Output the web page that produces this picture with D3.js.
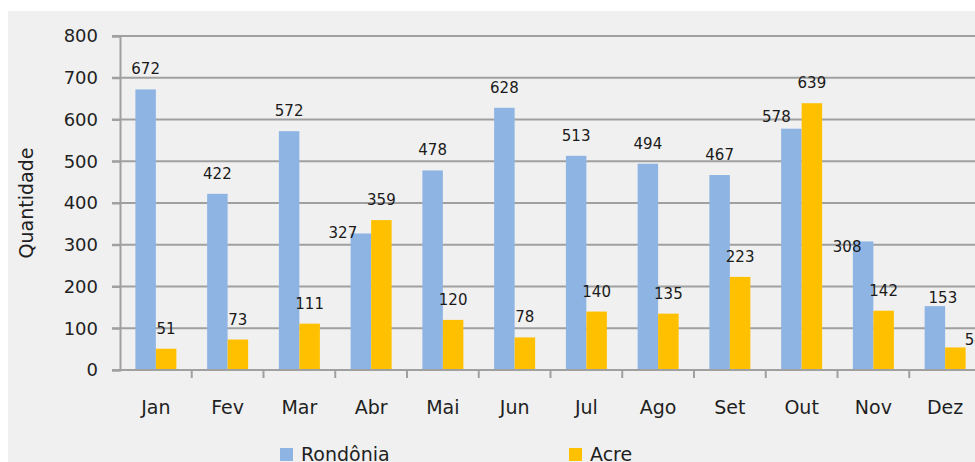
<!DOCTYPE html>
<html>
<head>
<meta charset="utf-8">
<script src="https://cdn.jsdelivr.net/npm/d3@7/dist/d3.min.js"></script>
<style>
  html, body { margin: 0; padding: 0; background: #fff; overflow: hidden; }
  svg { display: block; font-family: "DejaVu Sans", sans-serif; }
</style>
</head>
<body>
<script>
const months = ['Jan', 'Fev', 'Mar', 'Abr', 'Mai', 'Jun', 'Jul', 'Ago', 'Set', 'Out', 'Nov', 'Dez'];
const series = ['Rondônia', 'Acre'];
const rondonia = [672, 422, 572, 327, 478, 628, 513, 494, 467, 578, 308, 153];
const acre = [51, 73, 111, 359, 120, 78, 140, 135, 223, 639, 142, 54];
const yTicks = [0, 100, 200, 300, 400, 500, 600, 700, 800];

const width = 975, height = 462;
const colors = { 'Rondônia': '#8eb4e3', 'Acre': '#ffc000' };

// manual label nudges, like the hand placed labels of the original
const nudge = {
  'Rondônia-Abr': [-18, 20],
  'Rondônia-Out': [-15, 8],
  'Rondônia-Nov': [-16, 26],
  'Rondônia-Dez': [8, 12],
  'Acre-Dez': [19, 13]
};

const svg = d3.select('body').append('svg')
  .attr('width', width)
  .attr('height', height);

svg.append('rect')
  .attr('x', 8).attr('y', 11)
  .attr('width', width - 8).attr('height', height - 11)
  .attr('fill', '#f0f0f0');

const x = d3.scaleBand(months, [120, 120 + 12 * 71.75]);
const xs = d3.scaleBand(series, [0, 41]);
const y = d3.scaleLinear([0, 800], [370, 36]);

/*
Grid lines
*/
svg.append('g').attr('class', 'grid')
  .selectAll('line')
  .data(yTicks.filter(d => d > 0))
  .join('line')
    .attr('x1', 112).attr('x2', width)
    .attr('y1', d => y(d)).attr('y2', d => y(d))
    .style('stroke', '#a0a0a0')
    .style('stroke-width', 2);

/*
Bars
*/
const data = months.map((m, i) => ({ month: m, values: [rondonia[i], acre[i]] }));
const groups = svg.append('g').attr('class', 'bars')
  .selectAll('g')
  .data(data)
  .join('g')
    .attr('transform', d => `translate(${x(d.month) + (x.bandwidth() - 41) / 2},0)`);

groups.selectAll('rect')
  .data(d => series.map((s, j) => ({ s, month: d.month, value: d.values[j] })))
  .join('rect')
    .attr('x', d => xs(d.s))
    .attr('width', xs.bandwidth())
    .attr('y', d => y(d.value))
    .attr('height', d => y(0) - y(d.value))
    .attr('fill', d => colors[d.s]);

groups.selectAll('text')
  .data(d => series.map((s, j) => ({ s, month: d.month, value: d.values[j] })))
  .join('text')
    .attr('x', d => xs(d.s) + xs.bandwidth() / 2 + (nudge[`${d.s}-${d.month}`] || [0, 0])[0])
    .attr('y', d => y(d.value) - 15 + (nudge[`${d.s}-${d.month}`] || [0, 0])[1])
    .attr('text-anchor', 'middle')
    .style('font-size', '15px')
    .style('fill', '#1a1a1a')
    .text(d => d.value);

/*
Axes
*/
svg.append('g')
  .attr('transform', 'translate(120,0)')
  .call(d3.axisLeft(y).tickValues(yTicks).tickSize(8).tickPadding(14))
  .call(g => g.select('.domain').attr('stroke', '#a0a0a0').attr('stroke-width', 2))
  .call(g => g.selectAll('.tick line').attr('stroke', '#a0a0a0').attr('stroke-width', 2))
  .call(g => g.selectAll('text').style('font-size', '18px').style('fill', '#1f1f1f').style('font-family', '"DejaVu Sans", sans-serif'));

svg.append('line')
  .attr('x1', 112).attr('x2', width)
  .attr('y1', y(0)).attr('y2', y(0))
  .style('stroke', '#a0a0a0').style('stroke-width', 2);

svg.append('g').attr('class', 'x-ticks')
  .selectAll('line')
  .data(months.slice(1))
  .join('line')
    .attr('x1', d => x(d)).attr('x2', d => x(d))
    .attr('y1', y(0)).attr('y2', y(0) + 8)
    .style('stroke', '#a0a0a0').style('stroke-width', 2);

svg.append('g')
  .attr('transform', `translate(0,${y(0)})`)
  .call(d3.axisBottom(x).tickSize(0).tickPadding(31))
  .call(g => g.select('.domain').remove())
  .call(g => g.selectAll('text').style('font-size', '19px').style('fill', '#1f1f1f').style('font-family', '"DejaVu Sans", sans-serif'));

svg.append('text')
  .attr('transform', `translate(33,${(y(0) + y(800)) / 2}) rotate(-90)`)
  .attr('text-anchor', 'middle')
  .style('font-size', '19px')
  .style('fill', '#1f1f1f')
  .text('Quantidade');

/*
Legend
*/
const legendX = [280, 569];
const legend = svg.append('g').attr('class', 'legend')
  .selectAll('g')
  .data(series)
  .join('g')
    .attr('transform', (d, i) => `translate(${legendX[i]},448)`);
legend.append('rect')
  .attr('width', 13).attr('height', 13)
  .attr('fill', d => colors[d]);
legend.append('text')
  .attr('x', 21).attr('y', 13)
  .style('font-size', '19px')
  .style('fill', '#1f1f1f')
  .text(d => d);
</script>
</body>
</html>
